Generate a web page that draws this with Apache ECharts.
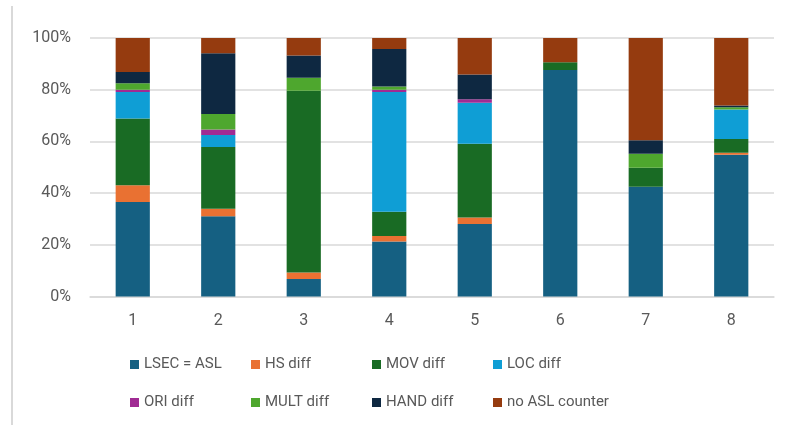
<!DOCTYPE html>
<html>
<head>
<meta charset="utf-8">
<script src="https://cdn.jsdelivr.net/npm/echarts@6/dist/echarts.min.js"></script>
<style>
  html, body { margin: 0; padding: 0; background: #ffffff; }
  #chart { width: 785px; height: 425px; }
</style>
</head>
<body>
<div id="chart"></div>
<script>
// Share of responses per item (percent of each column)
var categories = ['1', '2', '3', '4', '5', '6', '7', '8'];
var lsecEqualAsl = [36.6, 31.0, 6.8, 21.3, 28.0, 87.6, 42.5, 54.8];
var hsDiff       = [6.4, 2.9, 2.5, 2.1, 2.6, 0, 0, 0.8];
var movDiff      = [25.9, 23.9, 70.3, 9.4, 28.5, 3.0, 7.3, 5.3];
var locDiff      = [10.2, 4.7, 0, 46.3, 15.9, 0, 0, 11.4];
var oriDiff      = [0.9, 2.1, 0, 0.9, 1.3, 0, 0, 0];
var multDiff     = [2.5, 6.0, 5.0, 1.2, 0, 0, 5.4, 0.9];
var handDiff     = [4.3, 23.5, 8.6, 14.5, 9.6, 0, 5.2, 0.7];
var noAslCounter = [13.2, 5.9, 6.8, 4.3, 14.1, 9.4, 39.6, 26.1];
var yTicks = [0, 20, 40, 60, 80, 100];

var seriesDefs = [
  { name: 'LSEC = ASL',     data: lsecEqualAsl, color: '#156082' },
  { name: 'HS diff',        data: hsDiff,       color: '#E97132' },
  { name: 'MOV diff',       data: movDiff,      color: '#196B24' },
  { name: 'LOC diff',       data: locDiff,      color: '#0F9ED5' },
  { name: 'ORI diff',       data: oriDiff,      color: '#A02B93' },
  { name: 'MULT diff',      data: multDiff,     color: '#4EA72E' },
  { name: 'HAND diff',      data: handDiff,     color: '#0E2841' },
  { name: 'no ASL counter', data: noAslCounter, color: '#953B0F' }
];

var fontFamily = 'Roboto, "Liberation Sans", Arial, sans-serif';
var textColor = '#595959';

// Legend laid out as a 4 x 2 grid, one legend component per entry
var legendCols = [130, 251, 372, 493];
var legendRows = [357, 395];
var legends = seriesDefs.map(function (s, i) {
  return {
    data: [s.name],
    left: legendCols[i % 4],
    top: legendRows[Math.floor(i / 4)],
    padding: 0,
    icon: 'rect',
    itemWidth: 9,
    itemHeight: 9,
    selectedMode: false,
    textStyle: { color: textColor, fontSize: 15, fontFamily: fontFamily }
  };
});

var chart = echarts.init(document.getElementById('chart'), null, { renderer: 'canvas' });
chart.setOption({
  backgroundColor: '#ffffff',
  animation: false,
  textStyle: { fontFamily: fontFamily },
  graphic: [{
    type: 'line',
    shape: { x1: 12, y1: 6, x2: 12, y2: 425 },
    style: { stroke: '#d9d9d9', lineWidth: 2 }
  }],
  legend: legends,
  grid: { left: 90, right: 11, top: 38, bottom: 128.5 },
  xAxis: {
    type: 'category',
    data: categories,
    axisTick: { show: false },
    axisLine: { show: true, lineStyle: { color: '#d9d9d9', width: 1.5 } },
    axisLabel: { color: textColor, fontSize: 16, margin: 16, fontFamily: fontFamily }
  },
  yAxis: {
    type: 'value',
    min: yTicks[0],
    max: yTicks[yTicks.length - 1],
    interval: 20,
    axisLine: { show: false },
    axisTick: { show: false },
    splitLine: { lineStyle: { color: '#d9d9d9', width: 1.5 } },
    axisLabel: {
      color: textColor, fontSize: 16, margin: 19, fontFamily: fontFamily,
      formatter: '{value}%'
    }
  },
  series: seriesDefs.map(function (s) {
    return {
      name: s.name,
      type: 'bar',
      stack: 'total',
      barWidth: '40%',
      data: s.data,
      itemStyle: { color: s.color },
      emphasis: { disabled: true }
    };
  })
});
</script>
</body>
</html>
